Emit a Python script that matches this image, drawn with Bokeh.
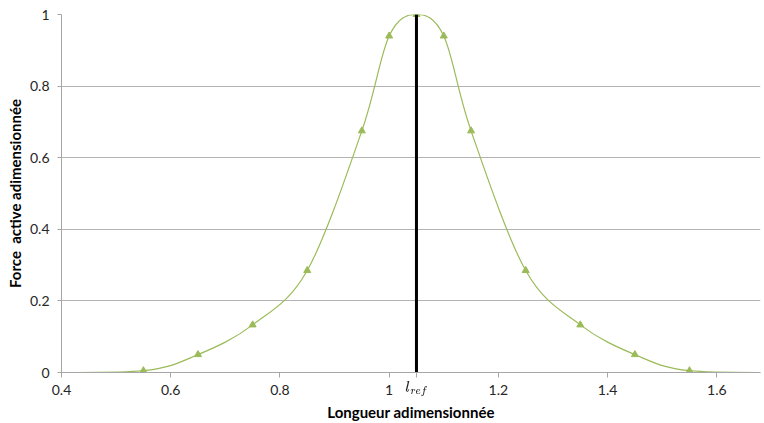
from bokeh.plotting import figure
from bokeh.models import Range1d, FixedTicker, TeX
from bokeh.embed import file_html
from bokeh.resources import INLINE

# data
lengths = [0.35, 0.55, 0.65, 0.75, 0.85, 0.95, 1.0, 1.05, 1.1, 1.15, 1.25, 1.35, 1.45, 1.55, 1.75]
force = [0.0, 0.005, 0.05, 0.133, 0.285, 0.675, 0.94, 1.0, 0.94, 0.675, 0.285, 0.133, 0.05, 0.005, 0.0]
l_ref = 1.05
x_ticks = [0.4, 0.6, 0.8, 1.0, 1.2, 1.4, 1.6]
y_ticks = [0, 0.2, 0.4, 0.6, 0.8, 1.0]

GREEN = "#9BBB59"
FONT = "Lato"

p = figure(width=764, height=423, output_backend="svg", toolbar_location=None,
           x_range=Range1d(0.4, 1.68), y_range=Range1d(0, 1.0),
           min_border_left=61, min_border_right=4, min_border_top=14, min_border_bottom=51)
p.outline_line_color = None
p.background_fill_color = "white"

n = len(lengths)
x0s, y0s, x1s, y1s, cx0, cy0, cx1, cy1 = [], [], [], [], [], [], [], []
for i in range(n - 1):
    im = max(i - 1, 0)
    ip2 = min(i + 2, n - 1)
    x0s.append(lengths[i]); y0s.append(force[i])
    x1s.append(lengths[i + 1]); y1s.append(force[i + 1])
    cx0.append(lengths[i] + (lengths[i + 1] - lengths[im]) / 6)
    cy0.append(force[i] + (force[i + 1] - force[im]) / 6)
    cx1.append(lengths[i + 1] - (lengths[ip2] - lengths[i]) / 6)
    cy1.append(force[i + 1] - (force[ip2] - force[i]) / 6)
p.bezier(x0=x0s, y0=y0s, x1=x1s, y1=y1s, cx0=cx0, cy0=cy0, cx1=cx1, cy1=cy1,
         line_color=GREEN, line_width=1.2)
p.scatter(lengths, force, marker="triangle", size=7, fill_color=GREEN, line_color=GREEN)

p.segment(x0=[l_ref], y0=[0], x1=[l_ref], y1=[1.0], line_color="black", line_width=3)

p.xaxis.ticker = FixedTicker(ticks=x_ticks + [l_ref])
p.yaxis.ticker = FixedTicker(ticks=y_ticks)
p.xaxis.major_label_overrides = {1.0: "1", l_ref: TeX(text=r"l_{ref}")}
p.yaxis.major_label_overrides = {0: "0", 1.0: "1"}
for ax in (p.xaxis[0], p.yaxis[0]):
    ax.axis_line_color = "#a6a6a6"
    ax.major_tick_line_color = "#a6a6a6"
    ax.minor_tick_line_color = None
    ax.major_tick_in = 0
    ax.major_tick_out = 5
    ax.major_label_text_font = FONT
    ax.major_label_text_font_size = "14px"
    ax.major_label_text_color = "#262626"
    ax.axis_label_text_font = FONT
    ax.axis_label_text_font_size = "15px"
    ax.axis_label_text_font_style = "bold"
    ax.axis_label_text_color = "black"
p.yaxis.major_tick_out = 4
p.xaxis.major_label_standoff = 3
p.yaxis.major_label_standoff = 8
p.xaxis.axis_label = "Longueur adimensionnée"
p.yaxis.axis_label = "Force\u00a0 active adimensionnée"
p.xaxis.axis_label_standoff = 2
p.yaxis.axis_label_standoff = 3

p.xgrid.grid_line_color = None
p.ygrid.grid_line_color = "#b3b3b3"
p.ygrid.grid_line_width = 1

open("out.html", "w").write(file_html(p, INLINE))
